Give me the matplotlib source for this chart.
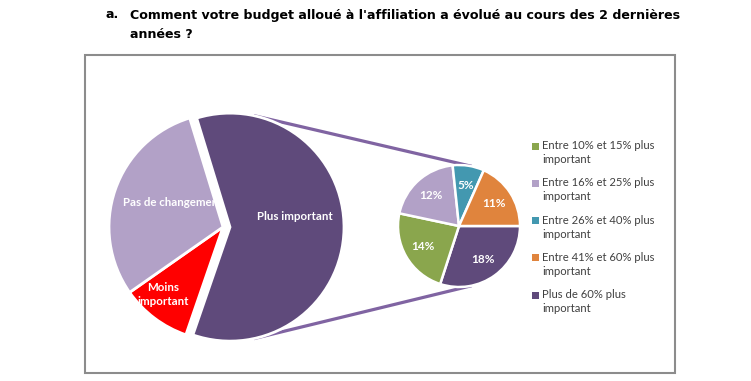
import matplotlib.pyplot as plt
import numpy as np
from matplotlib.patches import Rectangle

# données
main_labels = ['Plus important', 'Moins\nimportant', 'Pas de changement']
main_values = [60, 10, 30]
main_colors = ['#5F4A7B', '#FF0000', '#B2A1C7']

sub_labels = ['Entre 10% et 15% plus\nimportant', 'Entre 16% et 25% plus\nimportant',
              'Entre 26% et 40% plus\nimportant', 'Entre 41% et 60% plus\nimportant',
              'Plus de 60% plus\nimportant']
# ordre de tracé dans le petit camembert (sens horaire depuis 0°)
sub_order = [4, 0, 1, 2, 3]
sub_values = [14, 12, 5, 11, 18]
sub_colors = ['#8AA64D', '#B2A1C7', '#4398B0', '#E0843D', '#5F4A7B']

title_l1 = "Comment votre budget alloué à l'affiliation a évolué au cours des 2 dernières"
title_l2 = "années ?"

W, H = 751, 381
fig = plt.figure(figsize=(W / 100, H / 100), dpi=100)
ax = fig.add_axes([0, 0, 1, 1])

def Y(y):
    return H - y

# cadre
ax.add_patch(Rectangle((85, Y(373)), 590, 318, facecolor='white',
                       edgecolor='#8C8C8C', lw=1.5, zorder=0))

# titre
tfs = 9.1
ax.text(106, Y(15), 'a.', fontsize=tfs, fontweight='bold', va='center', family='DejaVu Sans')
ax.text(130, Y(15), title_l1, fontsize=tfs, fontweight='bold', va='center', family='DejaVu Sans')
ax.text(130, Y(34), title_l2, fontsize=tfs, fontweight='bold', va='center', family='DejaVu Sans')

# camembert principal (explode en pixels)
wedges, _ = ax.pie(main_values, colors=main_colors, startangle=107, counterclock=False,
                   center=(223, Y(227)), radius=114, explode=[7, 0, 0],
                   wedgeprops=dict(edgecolor='white', linewidth=2))
wedges[0].set_zorder(5)

# position des étiquettes : (rayon relatif, décalage angulaire)
lab_pos = [(0.58, 10), (0.79, -4.5), (0.49, -6.5)]
for i, w in enumerate(wedges):
    r, dth = lab_pos[i]
    th = np.deg2rad((w.theta1 + w.theta2) / 2 + dth)
    cx, cy = w.center
    tx = cx + r * w.r * np.cos(th)
    ty = cy + r * w.r * np.sin(th)
    z = 6 if i == 0 else 4
    ax.text(tx, ty, main_labels[i], color='white', fontsize=8.3, fontweight='bold',
            ha='center', va='center', family='Lato', zorder=z, linespacing=1.25)

# petit camembert
vals = [sub_values[k] for k in sub_order]
cols = [sub_colors[k] for k in sub_order]
tot = sum(vals)
swedges, _, autot = ax.pie(vals, colors=cols, startangle=0, counterclock=False,
                           center=(459, Y(226)), radius=61,
                           autopct=lambda p: f'{p * tot / 100:.0f}%', pctdistance=0.68,
                           wedgeprops=dict(edgecolor='white', linewidth=1.8),
                           textprops=dict(color='white', fontsize=8.5, fontweight='bold',
                                          family='Lato'))

# lignes de liaison
big = wedges[0]
small = swedges[0]
for a in (78, -78):
    t = np.deg2rad(a)
    x0 = big.center[0] + big.r * np.cos(t)
    y0 = big.center[1] + big.r * np.sin(t)
    x1 = small.center[0] + small.r * np.cos(t)
    y1 = small.center[1] + small.r * np.sin(t)
    ax.plot([x0, x1], [y0, y1], color='#8064A2', lw=2.3, solid_capstyle='butt', zorder=0.5)

# légende
for i, (lab, col) in enumerate(zip(sub_labels, sub_colors)):
    yy = Y(146 + i * 37.3)
    ax.add_patch(Rectangle((532, yy - 3.5), 7, 7, facecolor=col, edgecolor='none'))
    ax.text(542, yy + 6, lab, fontsize=8.1, va='top', ha='left', family='Lato',
            color='#404040', linespacing=1.35)

ax.set_xlim(0, W)
ax.set_ylim(0, H)
ax.set_aspect('equal')
ax.axis('off')

plt.savefig('out.png', dpi=100)
